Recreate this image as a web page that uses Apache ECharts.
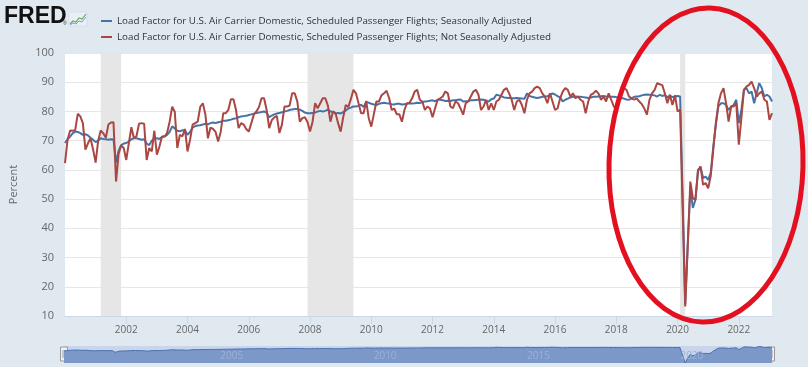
<!DOCTYPE html>
<html><head><meta charset="utf-8">
<script src="https://cdn.jsdelivr.net/npm/echarts@6/dist/echarts.min.js"></script>
<style>html,body{margin:0;padding:0;background:#e1e9f0}#c{width:808px;height:367px}</style>
</head><body><div id="c"></div>
<script>
// ---- data ----
const seriesNames = [
  'Load Factor for U.S. Air Carrier Domestic, Scheduled Passenger Flights; Seasonally Adjusted',
  'Load Factor for U.S. Air Carrier Domestic, Scheduled Passenger Flights; Not Seasonally Adjusted'
];
const firstMonth = '2000-01';
const lastMonth = '2023-02';
const tickYears = ['2002','2004','2006','2008','2010','2012','2014','2016','2018','2020','2022'];
const navYears = ['2005','2010','2015','2020'];
const yTicks = [10,20,30,40,50,60,70,80,90,100];
const recessions = [['2001-03','2001-11'],['2007-12','2009-06'],['2020-02','2020-04']];

// Seasonally adjusted (monthly, Jan 2000 - Feb 2023)
const saValues = [
 69.2,70.5,71.4,72.5,73.1,73.0,72.6,72.0,72.2,71.8,71.0,70.3,
 69.5,70.0,70.8,70.6,70.5,70.3,70.5,70.4,62.5,66.5,68.5,69.0,
 69.2,69.7,70.5,70.8,70.8,70.6,70.3,70.5,69.0,68.5,70.0,70.8,
 70.8,70.6,71.2,71.5,72.0,73.0,74.9,74.2,73.4,73.2,73.6,73.5,
 72.0,73.0,74.5,75.0,75.2,75.3,75.5,75.8,75.6,76.0,76.2,76.0,
 76.3,76.5,76.8,76.8,77.0,77.2,77.5,77.7,78.0,78.3,78.4,78.5,
 78.8,79.0,79.2,79.5,79.6,79.8,80.0,79.6,78.0,78.6,79.0,79.3,
 79.5,79.7,80.0,80.2,80.5,80.7,80.8,80.8,80.6,80.2,79.6,79.4,
 79.4,79.5,79.6,80.0,80.2,80.0,80.2,80.6,80.0,79.8,79.2,79.5,
 79.3,79.8,80.3,81.0,81.3,81.7,81.7,81.9,82.3,81.5,83.2,83.0,
 82.6,82.4,82.2,82.6,82.8,83.0,82.8,82.7,82.5,82.4,82.6,82.6,
 82.4,82.5,82.6,82.8,82.7,82.8,83.0,82.9,83.2,83.4,83.5,83.7,
 83.8,83.5,84.0,84.0,83.8,83.6,83.7,83.6,83.8,83.8,84.0,84.1,
 83.4,83.5,83.6,83.8,83.8,83.9,84.0,84.1,84.0,83.6,83.4,84.2,
 84.4,85.7,85.5,85.2,84.8,84.7,84.6,84.5,84.5,84.6,84.5,84.4,
 84.3,86.2,85.3,85.0,84.8,84.6,84.8,85.0,85.1,85.2,85.6,86.2,
 85.8,85.2,84.8,83.4,84.0,84.4,84.8,85.0,85.1,85.0,85.0,84.9,
 84.8,84.6,84.8,85.0,85.0,85.1,85.2,85.3,85.1,85.0,85.0,85.0,
 84.9,84.8,84.6,84.4,84.1,84.0,84.5,85.0,85.1,85.2,85.5,85.7,
 85.8,85.7,85.6,85.5,85.1,85.7,85.3,85.6,84.8,85.4,84.9,85.1,
 85.3,85.1,50.0,14.0,35.0,53.5,47.0,49.8,60.0,61.0,57.2,57.7,
 56.6,59.0,68.0,75.5,81.7,82.8,82.8,82.2,80.5,81.7,82.2,84.0,
 76.0,80.5,87.4,88.0,86.2,86.8,82.8,86.2,89.7,88.0,85.1,85.7,
 85.1,83.4
];
// Not seasonally adjusted
const nsaValues = [
 62.3,70.3,73.5,73.4,73.6,79.2,78.3,76.0,66.9,69.1,70.8,67.0,
 62.5,70.0,73.5,72.5,71.0,75.5,76.2,76.3,56.0,65.5,68.4,67.5,
 63.4,69.1,74.6,70.8,71.5,75.8,76.0,75.8,63.4,67.5,66.3,73.4,
 65.2,68.0,71.4,71.4,72.6,76.5,81.6,79.9,67.5,72.0,71.5,74.0,
 66.3,70.3,75.5,76.0,76.5,81.6,82.8,79.0,70.8,74.5,74.0,73.0,
 69.7,73.0,79.4,79.4,80.5,84.2,84.2,80.5,74.3,76.0,75.5,74.0,
 73.1,76.0,79.0,80.0,81.5,84.5,84.5,80.5,74.3,77.0,78.0,78.5,
 72.6,75.5,81.7,81.7,82.0,86.2,86.2,83.5,76.5,77.7,78.0,76.4,
 73.1,76.5,82.8,81.1,82.8,84.5,84.5,82.0,76.5,80.0,79.4,76.0,
 73.1,78.0,82.2,81.5,84.2,87.4,86.2,82.8,79.4,79.4,83.6,77.7,
 74.8,79.0,83.4,83.4,85.5,86.2,87.1,84.5,80.5,81.0,79.0,79.0,
 76.5,80.5,82.8,83.0,84.5,86.8,87.4,84.0,83.4,80.5,81.7,81.0,
 78.0,81.1,84.0,84.5,85.1,86.8,86.2,81.7,81.1,83.4,82.8,81.0,
 78.9,82.8,83.4,85.1,86.8,87.4,85.7,80.5,81.7,84.0,80.5,82.8,
 80.5,83.4,84.0,85.7,87.4,88.0,86.2,84.0,80.5,83.4,84.0,82.2,
 79.4,84.0,86.2,86.8,88.0,88.5,88.0,86.2,85.1,82.8,86.2,83.4,
 80.5,81.1,84.5,86.8,88.0,87.4,85.1,86.2,84.5,85.1,84.0,83.4,
 79.4,83.4,85.7,86.2,87.1,86.2,84.0,85.1,83.4,86.2,84.0,81.7,
 80.5,85.1,86.2,88.0,87.4,85.1,84.5,84.0,84.5,83.4,82.5,81.0,
 78.9,84.0,86.2,87.4,89.7,89.3,89.0,86.2,82.8,85.7,82.2,85.5,
 80.0,80.5,47.0,13.3,34.0,56.0,50.3,49.7,59.4,61.2,54.9,55.5,
 53.7,58.0,67.0,76.0,82.8,86.2,88.0,82.8,76.5,81.7,81.7,82.8,
 68.6,77.7,87.4,88.5,89.1,90.2,88.0,85.1,86.2,86.8,84.0,83.4,
 77.1,79.4
];

// month categories
const months = [];
(function(){
  let y = +firstMonth.slice(0,4), m = +firstMonth.slice(5,7);
  while (true) {
    const s = y + '-' + String(m).padStart(2,'0');
    months.push(s);
    if (s === lastMonth) break;
    m++; if (m > 12) { m = 1; y++; }
  }
})();

const isTick = (v) => v.slice(5) === '01' && tickYears.indexOf(v.slice(0,4)) >= 0;
const isNav = (v) => v.slice(5) === '01' && navYears.indexOf(v.slice(0,4)) >= 0;

const FONT = '"Open Sans", "DejaVu Sans", sans-serif';
const chart = echarts.init(document.getElementById('c'), null, {renderer:'canvas'});

const handle = (x) => ({
  type:'group', z:50, children:[
    {type:'rect', shape:{x:x-3.5, y:347, width:7, height:14}, style:{fill:'#f2f2f2', stroke:'#999', lineWidth:1}},
    {type:'line', shape:{x1:x-1, y1:350, x2:x-1, y2:358}, style:{stroke:'#999', lineWidth:1}},
    {type:'line', shape:{x1:x+1, y1:350, x2:x+1, y2:358}, style:{stroke:'#999', lineWidth:1}}
  ]
});

chart.setOption({
  animation:false,
  backgroundColor:'#e1e9f0',
  textStyle:{fontFamily:FONT},
  legend:{
    orient:'vertical', left:96, top:9, itemWidth:11, itemHeight:2, itemGap:2,
    icon:'rect',
    textStyle:{fontSize:9.8, color:'#333', lineHeight:14, fontFamily:FONT},
    data:seriesNames, selectedMode:false
  },
  grid:[
    {left:64, right:36, top:53, bottom:51, show:true, backgroundColor:'#ffffff', borderWidth:0},
    {left:64, right:36, top:346, height:17, show:true, backgroundColor:'#c9d5ea', borderWidth:0}
  ],
  xAxis:[
    {type:'category', data:months, boundaryGap:false, gridIndex:0,
     axisLine:{lineStyle:{color:'#ccd6eb'}},
     axisTick:{show:true, interval:(i,v)=>isTick(v), length:8, lineStyle:{color:'#ccd6eb'}},
     axisLabel:{interval:(i,v)=>isTick(v), formatter:(v)=>v.slice(0,4), color:'#666', fontSize:10, margin:9},
     splitLine:{show:false}},
    {type:'category', data:months, boundaryGap:false, gridIndex:1, z:10,
     axisLine:{show:false}, axisTick:{show:false},
     axisLabel:{inside:true, interval:(i,v)=>isNav(v), formatter:(v)=>v.slice(0,4), color:'#9cb1d9', fontSize:10, align:'left', margin:2, padding:[0,0,0,3]},
     splitLine:{show:false}}
  ],
  yAxis:[
    {type:'value', min:yTicks[0], max:yTicks[yTicks.length-1], interval:10, gridIndex:0,
     name:'Percent', nameLocation:'middle', nameGap:46,
     nameTextStyle:{color:'#666', fontSize:11},
     axisLine:{show:false}, axisTick:{show:false},
     axisLabel:{color:'#666', fontSize:11, margin:11},
     splitLine:{lineStyle:{color:'#e6e6e6'}}},
    {type:'value', min:13, max:92, gridIndex:1, show:false, splitLine:{show:false}}
  ],
  series:[
    {name:seriesNames[0], type:'line', data:saValues, xAxisIndex:0, yAxisIndex:0,
     showSymbol:false, symbol:'none', color:'#4572a7', lineStyle:{width:2, color:'#4572a7'},
     markArea:{silent:true, itemStyle:{color:'#e6e6e6'},
       data:recessions.map(r=>[{xAxis:r[0]},{xAxis:r[1]}])}},
    {name:seriesNames[1], type:'line', data:nsaValues, xAxisIndex:0, yAxisIndex:0,
     showSymbol:false, symbol:'none', color:'#aa4643', lineStyle:{width:2, color:'#aa4643'}},
    {name:'nav', type:'line', data:saValues, xAxisIndex:1, yAxisIndex:1,
     showSymbol:false, symbol:'none', lineStyle:{width:1, color:'#4a70b0'},
     areaStyle:{color:'#7b98c9', opacity:1}, silent:true}
  ],
  graphic:[
    {type:'text', left:4, top:5, style:{text:'FRED', font:'900 23px "Liberation Sans", Arial, sans-serif', fill:'#111'}},
    {type:'text', left:63, top:21, style:{text:'®', font:'5px "Liberation Sans", sans-serif', fill:'#333'}},
    {type:'group', children:[
      {type:'rect', shape:{x:69, y:12, width:18, height:14}, style:{fill:'#e9eff6', stroke:'#c8d3e0', lineWidth:0.5}},
      {type:'polyline', shape:{points:[[70,24],[73,21],[76,22],[79,18],[82,19],[86,14]]}, style:{stroke:'#6aaa5a', lineWidth:1.2, fill:null}},
      {type:'polyline', shape:{points:[[70,25],[73,23],[76,24],[79,21],[82,22],[86,17]]}, style:{stroke:'#7fa0cf', lineWidth:1, fill:null}}
    ]},
    handle(64), handle(771),
    {type:'ellipse', shape:{cx:706, cy:165, rx:97, ry:157}, rotation:-0.025, originX:706, originY:165,
     style:{fill:'transparent', stroke:'#e3101f', lineWidth:5}, z:100}
  ]
});
</script>
</body></html>
